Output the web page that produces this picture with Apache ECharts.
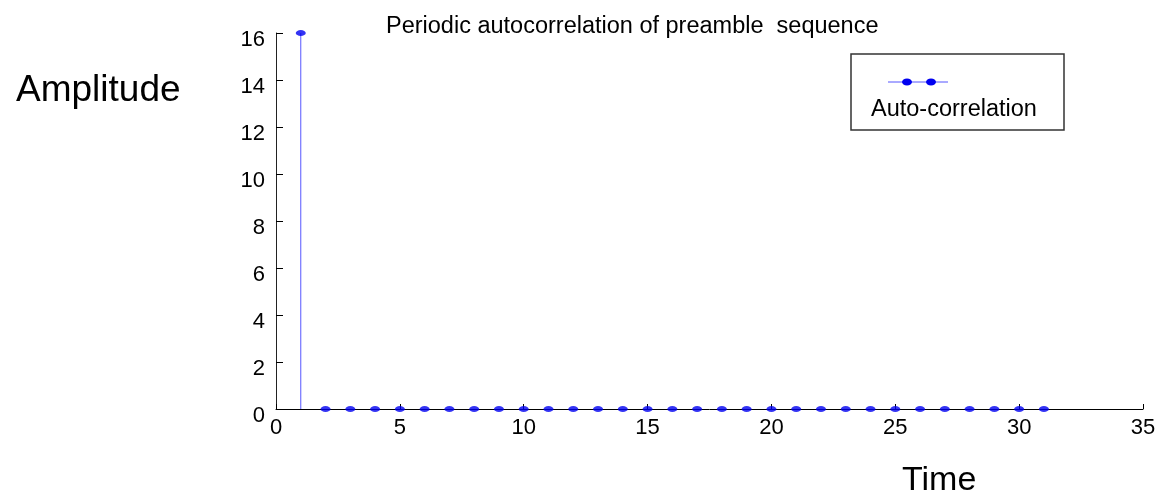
<!DOCTYPE html>
<html>
<head>
<meta charset="utf-8">
<script src="https://cdn.jsdelivr.net/npm/echarts@6/dist/echarts.min.js"></script>
<style>
html,body{margin:0;padding:0;background:#fff;}
#chart{width:1157px;height:490px;}
</style>
</head>
<body>
<div id="chart"></div>
<script>
// Data
var lags = [1, 2, 3, 4, 5, 6, 7, 8, 9, 10, 11, 12, 13, 14, 15, 16, 17, 18, 19, 20, 21, 22, 23, 24, 25, 26, 27, 28, 29, 30, 31];
var autoCorr = [16, 0, 0, 0, 0, 0, 0, 0, 0, 0, 0, 0, 0, 0, 0, 0, 0, 0, 0, 0, 0, 0, 0, 0, 0, 0, 0, 0, 0, 0, 0];
var xTicks = [0, 5, 10, 15, 20, 25, 30, 35];
var yTicks = [0, 2, 4, 6, 8, 10, 12, 14, 16];
var titleText = 'Periodic autocorrelation of preamble  sequence';
var seriesName = 'Auto-correlation';

var FONT = '"Liberation Sans", Arial, sans-serif';
var points = lags.map(function (x, i) { return [x, autoCorr[i]]; });

var chart = echarts.init(document.getElementById('chart'), null, {renderer: 'canvas'});
chart.setOption({
  animation: false,
  backgroundColor: '#ffffff',
  title: {
    text: titleText,
    left: 386, top: 15, padding: 0,
    textStyle: {fontFamily: FONT, fontSize: 23.5, fontWeight: 'normal', color: '#000'}
  },
  grid: {left: 276, right: 14, top: 33, bottom: 81, containLabel: false, outerBoundsMode: 'none'},
  xAxis: {
    type: 'value',
    min: xTicks[0], max: xTicks[xTicks.length - 1], interval: 5,
    axisLine: {show: true, onZero: false, lineStyle: {color: '#000', width: 1}},
    axisTick: {show: true, inside: true, length: 5, lineStyle: {color: '#000'}},
    axisLabel: {fontFamily: FONT, fontSize: 22, color: '#000', margin: 8},
    splitLine: {show: false}
  },
  yAxis: {
    type: 'value',
    min: yTicks[0], max: yTicks[yTicks.length - 1], interval: 2,
    axisLine: {show: true, onZero: false, lineStyle: {color: '#222', width: 1}},
    axisTick: {show: true, inside: true, length: 7, lineStyle: {color: '#000'}},
    axisLabel: {fontFamily: FONT, fontSize: 22, color: '#000', margin: 11, verticalAlign: 'top', lineHeight: 14},
    splitLine: {show: false}
  },
  series: [
    {
      type: 'bar',
      name: seriesName + ' stem',
      data: points,
      barWidth: 1,
      itemStyle: {color: '#5555ff'},
      silent: true,
      z: 2
    },
    {
      type: 'scatter',
      name: seriesName,
      data: points,
      symbol: 'circle',
      symbolSize: [10, 6],
      itemStyle: {color: '#0000f0'},
      z: 3
    }
  ],
  graphic: [
    {type: 'text', left: 16, top: 72, style: {text: 'Amplitude', fontFamily: FONT, fontSize: 37, fill: '#000'}},
    {type: 'text', left: 902, top: 464, style: {text: 'Time', fontFamily: FONT, fontSize: 34, fill: '#000'}},
    {type: 'rect', shape: {x: 851, y: 54, width: 213, height: 76}, style: {fill: '#fff', stroke: '#333', lineWidth: 1.5}, z: 10},
    {type: 'line', shape: {x1: 888, y1: 82, x2: 948, y2: 82}, style: {stroke: '#5555ff', lineWidth: 1}, z: 11},
    {type: 'ellipse', shape: {cx: 907, cy: 82, rx: 5, ry: 3.5}, style: {fill: '#0000f0'}, z: 12},
    {type: 'ellipse', shape: {cx: 931, cy: 82, rx: 5, ry: 3.5}, style: {fill: '#0000f0'}, z: 12},
    {type: 'text', left: 871, top: 98, style: {text: seriesName, fontFamily: FONT, fontSize: 23.5, fill: '#000'}, z: 12}
  ]
});
</script>
</body>
</html>
